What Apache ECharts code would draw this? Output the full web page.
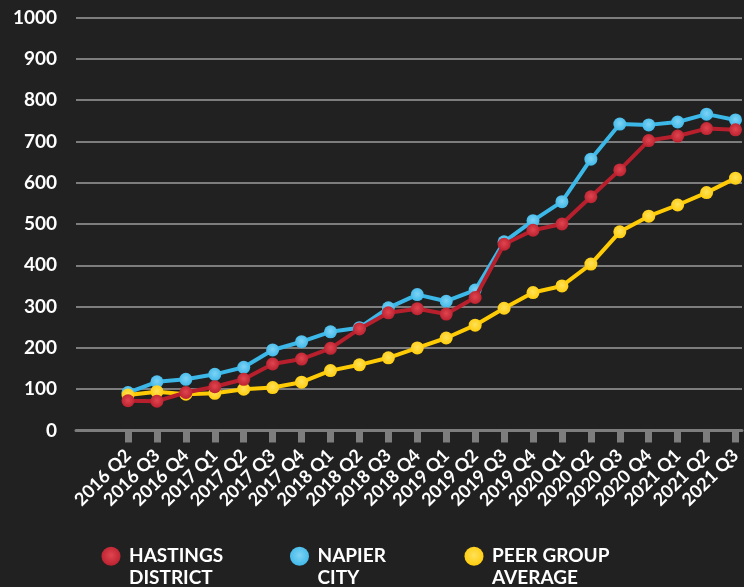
<!DOCTYPE html>
<html>
<head>
<meta charset="utf-8">
<script src="https://cdn.jsdelivr.net/npm/echarts@6/dist/echarts.min.js"></script>
<style>
  html, body { margin: 0; padding: 0; background: #212121; }
  #main { width: 744px; height: 587px; }
</style>
</head>
<body>
<div id="main"></div>
<script>
// quarters on the x axis
var quarters = ['2016 Q2', '2016 Q3', '2016 Q4', '2017 Q1', '2017 Q2', '2017 Q3', '2017 Q4',
  '2018 Q1', '2018 Q2', '2018 Q3', '2018 Q4', '2019 Q1', '2019 Q2', '2019 Q3', '2019 Q4',
  '2020 Q1', '2020 Q2', '2020 Q3', '2020 Q4', '2021 Q1', '2021 Q2', '2021 Q3'];

var hastings = [72, 71, 92, 106, 124, 161, 173, 199, 246, 285, 295, 282, 322, 451, 485, 500, 566, 631, 702, 713, 731, 728];
var napier   = [92, 118, 124, 136, 153, 195, 215, 239, 249, 297, 329, 313, 340, 457, 508, 554, 657, 742, 740, 747, 766, 752];
var peer     = [86, 94, 88, 90, 100, 104, 117, 145, 159, 176, 200, 224, 255, 296, 334, 350, 403, 481, 519, 546, 576, 611];

var seriesNames = ['Hastings District', 'Napier City', 'Peer Group Average'];
var legendLabels = ['HASTINGS\nDISTRICT', 'NAPIER\nCITY', 'PEER GROUP\nAVERAGE'];
var colors = ['#b81f2d', '#3bb7e8', '#ffcb05'];
var dotLight = ['#e0454f', '#7fd3f5', '#ffe15a'];

var font = 'Lato, "Open Sans", sans-serif';

function dot(i) {
  return {
    type: 'radial', x: 0.5, y: 0.45, r: 0.6,
    colorStops: [{ offset: 0, color: dotLight[i] }, { offset: 1, color: colors[i] }]
  };
}

function makeSeries(i, data, z) {
  return {
    name: seriesNames[i],
    type: 'line',
    xAxisIndex: 1,
    yAxisIndex: 1,
    data: data,
    z: z,
    symbol: 'circle',
    symbolSize: 13,
    lineStyle: { color: colors[i], width: 4 },
    itemStyle: { color: dot(i) },
    emphasis: { disabled: true }
  };
}

function makeLegend(i, left) {
  return {
    data: [seriesNames[i]],
    left: left,
    top: 519,
    icon: 'circle',
    itemWidth: 26,
    itemHeight: 19,
    selectedMode: false,
    // blank first line keeps the dot level with the first text line
    formatter: function () { return ' \n' + legendLabels[i]; },
    textStyle: {
      color: '#ffffff', fontFamily: font, fontWeight: 'bold', fontSize: 19,
      lineHeight: 21.5
    }
  };
}

var chart = echarts.init(document.getElementById('main'));
chart.setOption({
  backgroundColor: '#212121',
  animation: false,
  grid: [
    { left: 76, right: 2, top: 17.5, bottom: 156.5 },
    { left: 128, right: 7, top: 17.5, bottom: 156.5 }
  ],
  xAxis: [
    {
      gridIndex: 0, type: 'value', min: 0, max: 1,
      axisLine: { show: true, lineStyle: { color: '#7d7d7d', width: 3 } },
      axisTick: { show: false }, axisLabel: { show: false }, splitLine: { show: false }
    },
    {
      gridIndex: 1, type: 'category', data: quarters, boundaryGap: false,
      axisLine: { show: false },
      axisTick: { show: true, length: 12, lineStyle: { color: '#7d7d7d', width: 7 } },
      axisLabel: {
        rotate: 45, margin: 22, interval: 0,
        color: '#ffffff', fontFamily: font, fontWeight: 'bold', fontSize: 18
      },
      splitLine: { show: false }
    }
  ],
  yAxis: [
    {
      gridIndex: 0, type: 'value', min: 0, max: 1000, interval: 100,
      axisLine: { show: false }, axisTick: { show: false },
      axisLabel: {
        margin: 19, color: '#ffffff', fontFamily: font, fontWeight: 'bold', fontSize: 19,
        formatter: function (v) { return String(v); }
      },
      splitLine: { lineStyle: { color: '#7d7d7d', width: 2 } }
    },
    {
      gridIndex: 1, type: 'value', min: 0, max: 1000, interval: 100, show: false
    }
  ],
  legend: [makeLegend(0, 96.5), makeLegend(1, 285), makeLegend(2, 459.5)],
  series: [
    makeSeries(0, hastings, 4),
    makeSeries(1, napier, 2),
    makeSeries(2, peer, 3)
  ]
});
</script>
</body>
</html>
